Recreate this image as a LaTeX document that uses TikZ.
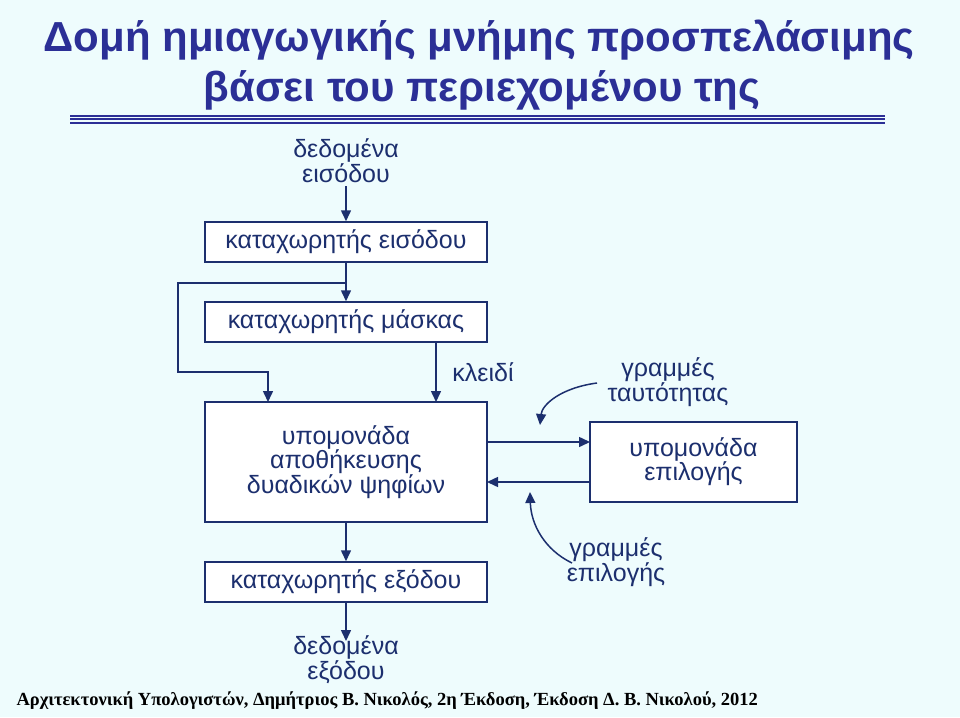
\documentclass[tikz,border=0pt]{standalone}
\usepackage{fontspec}
\setmainfont{Liberation Sans}
\newfontfamily\serifb{Liberation Serif}
\usetikzlibrary{arrows.meta}
\definecolor{bg}{HTML}{EEFCFD}
\definecolor{tblue}{HTML}{2B2F96}
\definecolor{lblue}{HTML}{1C2F6E}
\begin{document}
\begin{tikzpicture}[x=1pt,y=-1pt,
  box/.style={draw=lblue,line width=1.5pt,fill=white,text=lblue,font=\fontsize{25}{24}\selectfont,align=center,inner sep=0pt},
  lbl/.style={text=lblue,font=\fontsize{25}{22}\selectfont,align=center},
  arr/.style={draw=lblue,line width=1.5pt,-{Triangle[length=11pt,width=10pt]}},
  ln/.style={draw=lblue,line width=1.5pt}]
\fill[bg] (0,0) rectangle (960,717);
\useasboundingbox (0,0) rectangle (960,717);
\node[text=tblue,font=\bfseries\fontsize{42}{46}\selectfont] (t1) at (479,40) {Δομή ημιαγωγικής μνήμης προσπελάσιμης};
\node[text=tblue,font=\bfseries\fontsize{42}{46}\selectfont] (t2) at (482,90) {βάσει του περιεχομένου της};
\draw[tblue,line width=1.2pt] (70,116)--(885,116) (70,119)--(885,119);
\draw[tblue,line width=2pt] (70,122.5)--(885,122.5);
\node[lbl] (din) at (346,161) {δεδομένα\\εισόδου};
\node[box,minimum width=282pt,minimum height=40pt] (inr) at (346,242) {καταχωρητής εισόδου};
\node[box,minimum width=282pt,minimum height=40pt] (mask) at (346,322) {καταχωρητής μάσκας};
\node[box,minimum width=282pt,minimum height=120pt] (st) at (346,462) {υπομονάδα\\αποθήκευσης\\δυαδικών ψηφίων};
\node[box,minimum width=207pt,minimum height=80pt] (sel) at (693.5,462) {υπομονάδα\\επιλογής};
\node[box,minimum width=282pt,minimum height=40pt] (outr) at (346,582) {καταχωρητής εξόδου};
\node[lbl] (dout) at (346,660) {δεδομένα\\εξόδου};
\node[lbl] (key) at (483,372) {κλειδί};
\node[lbl] (id) at (668,382) {γραμμές\\ταυτότητας};
\node[lbl] (sl) at (616,562) {γραμμές\\επιλογής};
\coordinate (br) at (346,283);
\draw[arr] (din.south) -- (inr.north);
\draw[arr] (inr.south) -- (mask.north);
\draw[arr] (br) -- (178,283) -- (178,372) -- (268,372) -- (268,402);
\draw[arr] (436,342) -- (436,402);
\draw[arr] (487,442) -- (590,442);
\draw[arr] (590,482) -- (487,482);
\draw[arr] (597,383) .. controls (560,388) and (542,405) .. (540,425);
\draw[arr] (572,563) .. controls (545,550) and (531,525) .. (530,492);
\draw[arr] (st.south) -- (outr.north);
\draw[arr] (outr.south) -- (346,641);
\node[font=\serifb\bfseries\fontsize{18.5}{20}\selectfont,anchor=west] (ft) at (13,701) {Αρχιτεκτονική Υπολογιστών, Δημήτριος Β. Νικολός, 2η Έκδοση, Έκδοση Δ. Β. Νικολού, 2012};
\end{tikzpicture}
\end{document}
